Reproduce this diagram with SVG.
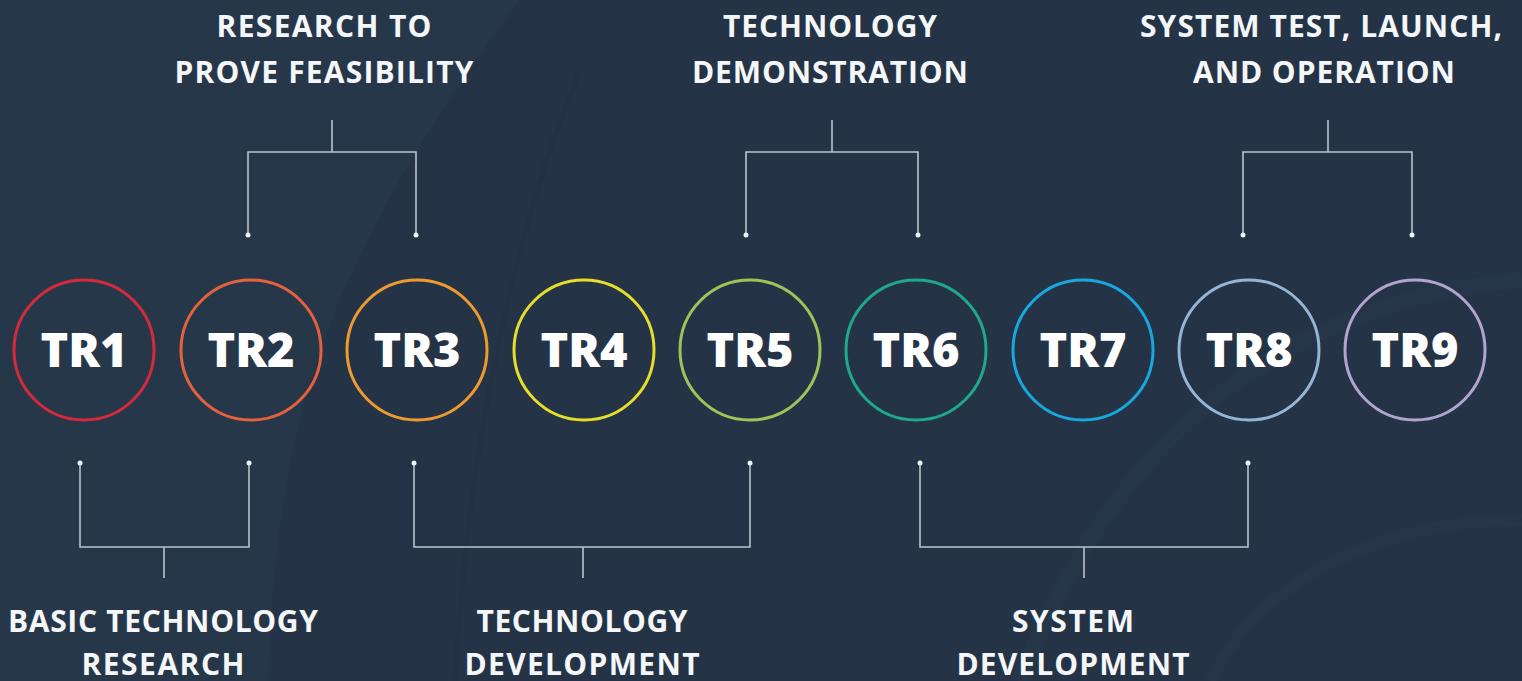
<svg xmlns="http://www.w3.org/2000/svg" width="1522" height="681" viewBox="0 0 1522 681">
<defs>
<style>
.bg{fill:#243446}
.ring{fill:none;stroke-width:3}
.tr{font-family:"Open Sans","Liberation Sans",sans-serif;font-weight:800;font-size:47px;fill:#ffffff;text-anchor:middle}
.lbl{font-family:"Open Sans","Liberation Sans",sans-serif;font-weight:700;font-size:30px;fill:#f4f6f8;text-anchor:middle}
.con{fill:none;stroke:#b9c4cf;stroke-width:1.6}
.dot{fill:#eef2f5}
</style>
</defs>
<rect class="bg" x="0" y="0" width="1522" height="681"/>
<g id="background" fill="none">
<path d="M0,0 L520,0 C430,120 340,260 300,420 C280,500 270,600 268,681 L0,681 Z" fill="#2a3b4e" opacity="0.4"/>
<path d="M578,75 C520,220 470,420 455,681" stroke="#1f2e3e" stroke-width="5" opacity="0.35"/>
<path d="M1522,280 C1300,300 1120,420 1020,681" stroke="#2b3c4f" stroke-width="16" opacity="0.35"/>
<path d="M1522,520 C1380,520 1260,580 1210,681" stroke="#2b3c4f" stroke-width="12" opacity="0.3"/>
</g>
<g id="connectors">
<path class="con" d="M248,235 V152 H416 V235 M332,152 V120"/>
<path class="con" d="M746,235 V152 H918 V235 M832,152 V120"/>
<path class="con" d="M1243,235 V152 H1412 V235 M1328,152 V120"/>
<path class="con" d="M80,463 V547 H249 V463 M164,547 V578"/>
<path class="con" d="M414,463 V547 H750 V463 M583,547 V578"/>
<path class="con" d="M920,463 V547 H1248 V463 M1084,547 V578"/>
<circle class="dot" cx="248" cy="235" r="2.5"/>
<circle class="dot" cx="416" cy="235" r="2.5"/>
<circle class="dot" cx="746" cy="235" r="2.5"/>
<circle class="dot" cx="918" cy="235" r="2.5"/>
<circle class="dot" cx="1243" cy="235" r="2.5"/>
<circle class="dot" cx="1412" cy="235" r="2.5"/>
<circle class="dot" cx="80" cy="463" r="2.5"/>
<circle class="dot" cx="249" cy="463" r="2.5"/>
<circle class="dot" cx="414" cy="463" r="2.5"/>
<circle class="dot" cx="750" cy="463" r="2.5"/>
<circle class="dot" cx="920" cy="463" r="2.5"/>
<circle class="dot" cx="1248" cy="463" r="2.5"/>
</g>
<g id="TR1"><circle class="ring" cx="84" cy="350" r="70" stroke="#d42a3c"/><text class="tr" x="84" y="367">TR1</text></g>
<g id="TR2"><circle class="ring" cx="251" cy="350" r="70" stroke="#e5613e"/><text class="tr" x="251" y="367">TR2</text></g>
<g id="TR3"><circle class="ring" cx="417" cy="350" r="70" stroke="#ee9a30"/><text class="tr" x="417" y="367">TR3</text></g>
<g id="TR4"><circle class="ring" cx="584" cy="350" r="70" stroke="#e6dc2a"/><text class="tr" x="584" y="367">TR4</text></g>
<g id="TR5"><circle class="ring" cx="750" cy="350" r="70" stroke="#9cc456"/><text class="tr" x="750" y="367">TR5</text></g>
<g id="TR6"><circle class="ring" cx="916" cy="350" r="70" stroke="#1ea88c"/><text class="tr" x="916" y="367">TR6</text></g>
<g id="TR7"><circle class="ring" cx="1083" cy="350" r="70" stroke="#18a8de"/><text class="tr" x="1083" y="367">TR7</text></g>
<g id="TR8"><circle class="ring" cx="1249" cy="350" r="70" stroke="#94b6d6"/><text class="tr" x="1249" y="367">TR8</text></g>
<g id="TR9"><circle class="ring" cx="1415" cy="350" r="70" stroke="#b2a4cc"/><text class="tr" x="1415" y="367">TR9</text></g>
<g id="label-feasibility">
<text class="lbl" x="324" y="37" textLength="215">RESEARCH TO</text>
<text class="lbl" x="324" y="83" textLength="299">PROVE FEASIBILITY</text>
</g>
<g id="label-demonstration">
<text class="lbl" x="830" y="37" textLength="214">TECHNOLOGY</text>
<text class="lbl" x="830" y="83" textLength="276">DEMONSTRATION</text>
</g>
<g id="label-operation">
<text class="lbl" x="1321" y="37" textLength="362">SYSTEM TEST, LAUNCH,</text>
<text class="lbl" x="1324" y="83" textLength="262">AND OPERATION</text>
</g>
<g id="label-basic">
<text class="lbl" x="163" y="632" textLength="310">BASIC TECHNOLOGY</text>
<text class="lbl" x="163" y="675" textLength="163">RESEARCH</text>
</g>
<g id="label-techdev">
<text class="lbl" x="582" y="632" textLength="211">TECHNOLOGY</text>
<text class="lbl" x="582" y="675" textLength="235">DEVELOPMENT</text>
</g>
<g id="label-sysdev">
<text class="lbl" x="1073" y="632" textLength="122">SYSTEM</text>
<text class="lbl" x="1073" y="675" textLength="233">DEVELOPMENT</text>
</g>
</svg>
